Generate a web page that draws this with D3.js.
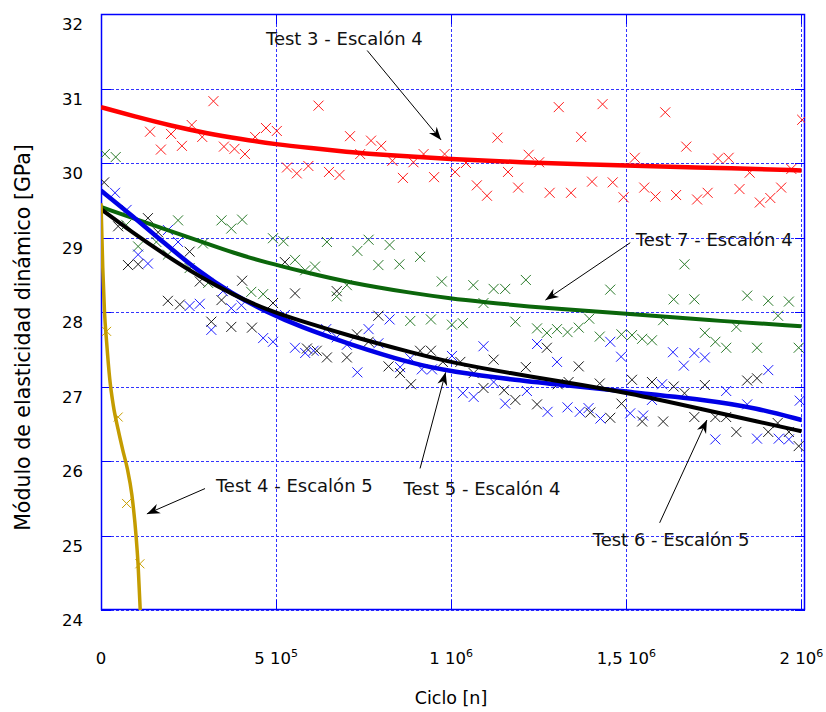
<!DOCTYPE html>
<html>
<head>
<meta charset="utf-8">
<script src="https://cdn.jsdelivr.net/npm/d3@7"></script>
<style>
body { margin: 0; background: #fff; }
svg { display: block; font-family: "DejaVu Sans", sans-serif; }
</style>
</head>
<body>
<svg width="826" height="712"></svg>
<script>
// ejes
const yTicks = [24, 25, 26, 27, 28, 29, 30, 31, 32];
const xTicks = [0, 5e5, 1e6, 1.5e6, 2e6];
const xTickBase = ['0', '5 10', '1 10', '1,5 10', '2 10'];
const xTickExp = ['', '5', '6', '6', '6'];

// Test 3 - Escalón 4 (rojo)
const test3Points = [[140e3,30.42],[171e3,30.18],[200e3,30.39],[231e3,30.23],[259e3,30.51],[289e3,30.35],[321e3,30.83],[351e3,30.22],[381e3,30.19],[411e3,30.12],[440e3,30.35],[471e3,30.47],[502e3,30.43],[531e3,29.94],[559e3,29.86],[592e3,29.96],[621e3,30.77],[651e3,29.88],[681e3,29.84],[711e3,30.36],[740e3,30.12],[771e3,30.30],[800e3,30.23],[832e3,30.03],[862e3,29.80],[892e3,30.01],[921e3,30.12],[951e3,29.81],[981e3,30.12],[1011e3,29.88],[1042e3,30.00],[1073e3,29.70],[1102e3,29.56],[1132e3,30.34],[1162e3,29.88],[1191e3,29.67],[1221e3,30.11],[1251e3,30.01],[1281e3,29.60],[1307e3,30.75],[1342e3,29.60],[1371e3,30.35],[1402e3,29.75],[1432e3,30.79],[1461e3,29.74],[1492e3,29.54],[1524e3,30.07],[1551e3,29.67],[1583e3,29.55],[1611e3,30.68],[1642e3,29.57],[1671e3,30.22],[1702e3,29.51],[1732e3,29.60],[1762e3,30.06],[1792e3,30.07],[1823e3,29.65],[1852e3,29.87],[1881e3,29.47],[1911e3,29.53],[1942e3,29.67],[1971e3,29.92],[2002e3,30.58]];
const test3Fit = [[0,30.75],[100e3,30.62],[200e3,30.50],[300e3,30.40],[400e3,30.32],[500e3,30.25],[600e3,30.20],[700e3,30.15],[800e3,30.11],[1000e3,30.05],[1200e3,30.01],[1400e3,29.98],[1600e3,29.95],[1800e3,29.93],[2000e3,29.90]];

// Test 7 - Escalón 4 (verde)
const test7Points = [[11e3,30.12],[42e3,30.08],[72e3,29.17],[106e3,28.88],[158e3,28.94],[191e3,28.77],[220e3,29.23],[253e3,28.59],[291e3,28.92],[306e3,28.39],[344e3,29.23],[372e3,29.12],[403e3,29.24],[429e3,28.27],[463e3,28.24],[491e3,28.99],[521e3,28.95],[554e3,28.70],[583e3,28.56],[611e3,28.61],[645e3,28.94],[673e3,28.21],[702e3,28.36],[732e3,28.82],[764e3,28.97],[792e3,28.63],[824e3,28.90],[852e3,28.64],[883e3,27.88],[911e3,28.74],[942e3,27.90],[973e3,28.41],[1002e3,27.83],[1033e3,27.85],[1063e3,28.36],[1092e3,28.12],[1121e3,28.31],[1154e3,28.31],[1183e3,27.87],[1213e3,28.43],[1245e3,27.78],[1273e3,27.72],[1302e3,27.77],[1332e3,27.73],[1364e3,27.79],[1394e3,27.91],[1424e3,27.67],[1454e3,28.30],[1486e3,27.70],[1516e3,27.69],[1545e3,27.64],[1573e3,27.62],[1605e3,27.89],[1635e3,28.17],[1666e3,28.64],[1694e3,28.17],[1724e3,27.72],[1754e3,27.60],[1785e3,27.52],[1814e3,27.80],[1845e3,28.22],[1873e3,27.52],[1905e3,28.15],[1933e3,27.95],[1964e3,28.14],[1992e3,27.52]];
const test7Fit = [[0,29.41],[190e3,29.10],[283e3,28.95],[380e3,28.79],[476e3,28.66],[570e3,28.55],[702e3,28.40],[892e3,28.25],[1002e3,28.18],[1080e3,28.14],[1270e3,28.05],[1500e3,27.98],[1730e3,27.89],[2000e3,27.81]];

// Test 5 - Escalón 4 (azul)
const test5Points = [[40e3,29.60],[73e3,29.37],[106e3,28.77],[134e3,28.65],[191e3,29.10],[220e3,28.94],[253e3,28.08],[282e3,28.11],[315e3,27.76],[348e3,28.28],[372e3,28.05],[401e3,28.09],[463e3,27.65],[491e3,27.60],[525e3,27.96],[554e3,27.52],[583e3,27.45],[607e3,27.48],[643e3,27.77],[673e3,27.66],[702e3,27.56],[732e3,27.19],[764e3,27.77],[792e3,27.58],[824e3,27.90],[854e3,27.26],[883e3,27.38],[916e3,27.23],[945e3,27.23],[1002e3,27.41],[1033e3,26.91],[1064e3,26.86],[1092e3,27.54],[1121e3,27.06],[1154e3,26.77],[1216e3,26.94],[1245e3,27.57],[1275e3,26.66],[1302e3,27.33],[1332e3,26.72],[1367e3,26.66],[1392e3,26.71],[1426e3,26.57],[1454e3,27.60],[1485e3,27.40],[1511e3,26.64],[1548e3,26.61],[1573e3,26.82],[1602e3,27.03],[1633e3,27.46],[1664e3,27.28],[1694e3,27.45],[1724e3,27.39],[1754e3,26.29],[1785e3,26.94],[1845e3,26.76],[1873e3,26.30],[1905e3,27.22],[1935e3,26.30],[1964e3,26.29],[1995e3,26.81]];
const test5Fit = [[0,29.63],[87e3,29.30],[182e3,28.92],[277e3,28.55],[372e3,28.25],[473e3,28.00],[570e3,27.80],[702e3,27.58],[892e3,27.30],[1002e3,27.20],[1178e3,27.09],[1300e3,27.03],[1502e3,26.93],[1731e3,26.82],[1873e3,26.71],[2000e3,26.55]];

// Test 6 - Escalón 5 (negro)
const test6Points = [[9e3,29.74],[49e3,29.15],[77e3,28.63],[106e3,28.64],[134e3,29.26],[163e3,29.07],[191e3,28.15],[225e3,28.10],[253e3,28.81],[282e3,28.41],[315e3,27.87],[344e3,28.16],[372e3,27.80],[403e3,28.42],[431e3,27.79],[491e3,28.12],[525e3,28.67],[554e3,28.25],[588e3,27.51],[616e3,27.48],[645e3,27.39],[673e3,28.28],[702e3,27.39],[731e3,27.70],[764e3,27.60],[792e3,27.95],[821e3,27.27],[854e3,27.18],[885e3,27.03],[911e3,27.48],[942e3,27.48],[976e3,27.33],[1026e3,27.33],[1064e3,27.18],[1092e3,26.98],[1121e3,27.36],[1151e3,26.95],[1183e3,26.82],[1213e3,27.26],[1245e3,26.76],[1273e3,27.52],[1304e3,27.03],[1335e3,27.06],[1364e3,27.27],[1397e3,26.65],[1424e3,27.04],[1454e3,26.58],[1486e3,26.77],[1516e3,27.09],[1545e3,26.53],[1573e3,27.06],[1605e3,26.53],[1635e3,27.00],[1666e3,26.91],[1694e3,26.59],[1724e3,27.02],[1754e3,26.59],[1785e3,26.59],[1814e3,26.39],[1845e3,27.08],[1873e3,27.11],[1905e3,26.39],[1932e3,26.51],[1964e3,26.39],[1992e3,26.20]];
const test6Fit = [[0,29.38],[92e3,29.06],[182e3,28.77],[283e3,28.47],[378e3,28.23],[473e3,28.03],[570e3,27.88],[702e3,27.69],[892e3,27.45],[1002e3,27.32],[1178e3,27.17],[1300e3,27.08],[1502e3,26.92],[1731e3,26.68],[1873e3,26.53],[2000e3,26.40]];

// Test 4 - Escalón 5 (amarillo)
const test4Points = [[16e3,27.74],[49e3,26.59],[73e3,25.43],[111e3,24.62]];
const test4Fit = [[0,29.46],[5e3,28.6],[10e3,28.0],[16e3,27.6],[25e3,27.1],[35e3,26.75],[49e3,26.42],[62e3,26.15],[75e3,25.9],[88e3,25.55],[100e3,25.0],[106e3,24.6],[112e3,24.0]];

// anotaciones
const annotLabels = ['Test 3 - Escalón 4', 'Test 7 - Escalón 4', 'Test 4 - Escalón 5', 'Test 5 - Escalón 4', 'Test 6 - Escalón 5'];
const annotTextPos = [[471e3,31.584],[1527e3,28.88],[328e3,25.59],[864e3,25.54],[1404e3,24.86]];
const annotFrom = [[760e3,31.51],[1511e3,28.93],[297e3,25.63],[911e3,25.90],[1595e3,25.17]];
const annotTo = [[971e3,30.31],[1269e3,28.16],[131e3,25.29],[984e3,27.19],[1730e3,26.55]];

function render() {
    const svg = d3.select('svg');
    const left = 101, right = 805, top = 14, bottom = 610;

    const x = d3.scaleLinear().domain([0, 2.01e6]).range([left, right]);
    const y = d3.scaleLinear().domain([24, 32]).range([bottom, top]);
    const snap = v => Math.round(v) + 0.5; // líneas nítidas

    const defs = svg.append('defs');
    defs.append('clipPath').attr('id', 'plot')
        .append('rect').attr('x', left).attr('y', top)
        .attr('width', right - left).attr('height', bottom - top);
    defs.append('marker').attr('id', 'head')
        .attr('viewBox', '-14 -6 15 12').attr('refX', 0).attr('refY', 0)
        .attr('markerWidth', 15).attr('markerHeight', 12)
        .attr('markerUnits', 'userSpaceOnUse').attr('orient', 'auto')
        .append('path').attr('d', 'M0,0L-13,-5L-9,0L-13,5Z').attr('fill', '#000');

    // rejilla
    const grid = svg.append('g').attr('stroke', '#3333ff').attr('stroke-width', 1)
        .attr('stroke-dasharray', '3,2');
    grid.selectAll('line.h').data(yTicks).join('line').attr('class', 'h')
        .attr('x1', left).attr('x2', right)
        .attr('y1', d => snap(y(d))).attr('y2', d => snap(y(d)));
    grid.selectAll('line.v').data(xTicks).join('line').attr('class', 'v')
        .attr('y1', top).attr('y2', bottom)
        .attr('x1', d => snap(x(d))).attr('x2', d => snap(x(d)));

    // marcas interiores
    const ticks = svg.append('g').attr('stroke', '#0000ff').attr('stroke-width', 1);
    yTicks.forEach(v => {
        ticks.append('line').attr('x1', left).attr('x2', left + 10).attr('y1', snap(y(v))).attr('y2', snap(y(v)));
        ticks.append('line').attr('x1', right - 10).attr('x2', right).attr('y1', snap(y(v))).attr('y2', snap(y(v)));
    });
    xTicks.forEach(v => {
        ticks.append('line').attr('x1', snap(x(v))).attr('x2', snap(x(v))).attr('y1', bottom - 10).attr('y2', bottom);
        ticks.append('line').attr('x1', snap(x(v))).attr('x2', snap(x(v))).attr('y1', top).attr('y2', top + 10);
    });

    svg.append('rect').attr('x', left + 0.5).attr('y', top + 0.5)
        .attr('width', right - left - 1).attr('height', bottom - top - 1)
        .attr('fill', 'none').attr('stroke', '#0000ff').attr('stroke-width', 1.5);

    const plot = svg.append('g').attr('clip-path', 'url(#plot)');

    // cruces
    function crosses(data, color, r) {
        plot.append('g').selectAll('path').data(data).join('path')
            .attr('d', d => {
                const cx = x(d[0]), cy = y(d[1]);
                return `M${cx - r},${cy - r}L${cx + r},${cy + r}M${cx - r},${cy + r}L${cx + r},${cy - r}`;
            })
            .attr('stroke', color).attr('stroke-width', 1).attr('fill', 'none');
    }
    crosses(test3Points, '#ff1a1a', 5);
    crosses(test7Points, '#2a7a2a', 5);
    crosses(test5Points, '#1a1aff', 5);
    crosses(test6Points, '#1a1a1a', 5);
    crosses(test4Points, '#c8a000', 4.5);

    // curvas de ajuste
    const smooth = d3.line()
        .x(d => x(d[0]))
        .y(d => y(d[1]))
        .curve(d3.curveBasis);
    const steep = d3.line()
        .x(d => x(d[0]))
        .y(d => y(d[1]))
        .curve(d3.curveMonotoneX);
    function fit(data, color, w, gen) {
        plot.append('path').datum(data).attr('d', gen)
            .attr('fill', 'none').attr('stroke', color).attr('stroke-width', w)
            .attr('stroke-linejoin', 'round');
    }
    fit(test7Fit, '#0b660b', 4, smooth);
    fit(test3Fit, '#ff0000', 4.5, smooth);
    fit(test5Fit, '#0000e6', 4.5, smooth);
    fit(test6Fit, '#000000', 4, smooth);
    fit(test4Fit, '#c49c00', 3.5, steep);

    // etiquetas de ejes
    svg.append('g').selectAll('text').data(yTicks).join('text')
        .attr('x', 83).attr('y', d => y(d) + 16)
        .attr('text-anchor', 'end').style('font-size', '16.5px')
        .text(d => d);

    const xl = svg.append('g').selectAll('text').data(xTicks).join('text')
        .attr('x', d => x(d)).attr('y', 664)
        .attr('text-anchor', 'middle').style('font-size', '16.5px');
    xl.append('tspan').text((d, i) => xTickBase[i]);
    xl.append('tspan').attr('dy', -7.5).style('font-size', '11px').text((d, i) => xTickExp[i]);

    svg.append('text').attr('x', 451).attr('y', 704)
        .attr('text-anchor', 'middle').style('font-size', '17.5px')
        .text('Ciclo [n]');
    svg.append('text').attr('transform', 'translate(30,337.5) rotate(-90)')
        .attr('text-anchor', 'middle').style('font-size', '20.5px')
        .text('Módulo de elasticidad dinámico [GPa]');

    // anotaciones con flecha
    const notes = svg.append('g');
    annotLabels.forEach((label, i) => {
        notes.append('line')
            .attr('x1', x(annotFrom[i][0])).attr('y1', y(annotFrom[i][1]))
            .attr('x2', x(annotTo[i][0])).attr('y2', y(annotTo[i][1]))
            .attr('stroke', '#000').attr('stroke-width', 1)
            .attr('marker-end', 'url(#head)');
        notes.append('text')
            .attr('x', x(annotTextPos[i][0])).attr('y', y(annotTextPos[i][1]))
            .style('font-size', '18px').attr('fill', '#111')
            .text(label);
    });
}

render();
</script>
</body>
</html>
